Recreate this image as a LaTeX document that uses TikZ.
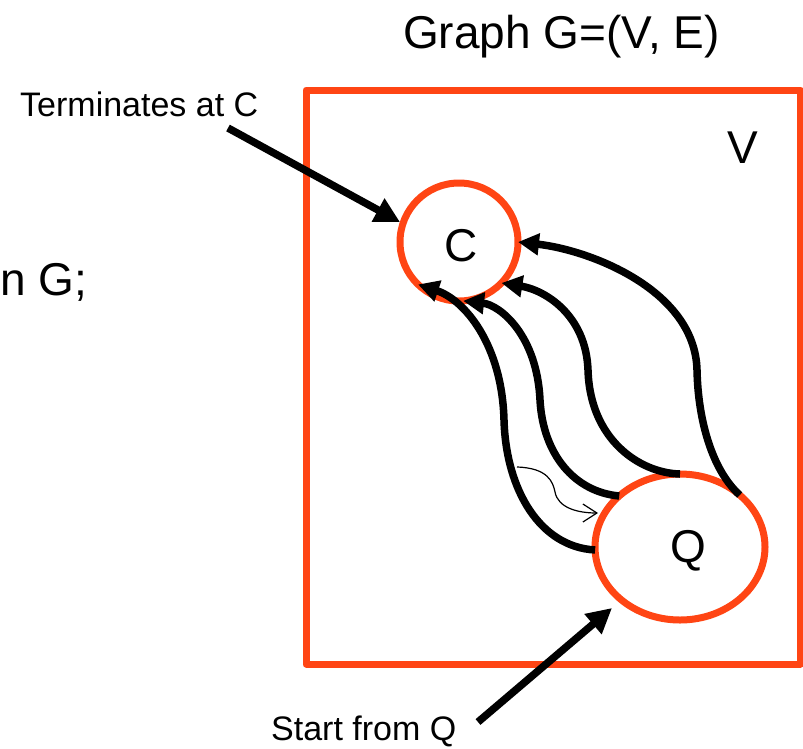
\documentclass[tikz,border=0pt]{standalone}
\usepackage{fontspec}
\setmainfont{Liberation Sans}
\usetikzlibrary{arrows.meta,shapes.geometric}
\definecolor{vred}{RGB}{255,69,20}
\begin{document}
\begin{tikzpicture}[x=1pt,y=-1pt,
  setbox/.style={draw=vred,line width=7pt,line join=round},
  vtx/.style={draw=vred,line width=7pt,inner sep=0pt,outer sep=0pt},
  walk/.style={draw=black,line width=7.5pt,-{Triangle[length=21pt,width=21pt]}},
  thinwalk/.style={draw=black,line width=1.2pt,-{Straight Barb[length=14pt,width=18pt]}},
  pointer/.style={draw=black,line width=7.5pt,-{Triangle[length=25pt,width=25pt]}},
  big/.style={font=\fontsize{46}{50}\selectfont},
  small/.style={font=\fontsize{34}{38}\selectfont},
  txt/.style={anchor=base west,inner sep=0pt}]
\useasboundingbox (0,0) rectangle (803,748);
% the set V
\draw[setbox] (306,90) rectangle (800,664);
% vertices
\node[vtx,circle,minimum size=118pt] (C) at (459,242) {};
\node[vtx,ellipse,minimum width=170pt,minimum height=146pt] (Q) at (680,547) {};
\node[big,inner sep=0pt] (Clab) at (461,246) {C};
\node[big,inner sep=0pt] (Qlab) at (688,551) {Q};
% texts
\node[big,txt] (title) at (403,48) {Graph G=(V, E)};
\node[big,txt] (Vlab) at (727,163) {V};
\node[big,txt] (nG) at (0,295) {n G;};
\node[small,txt] (tC) at (20,116) {Terminates at C};
\node[small,txt] (sQ) at (271,740) {Start from Q};
% walks from Q to C
\draw[walk] (Q.41) .. controls (712,470) and (698,420) .. (697,370)
  .. controls (695,290) and (590,250) .. (C.0);
\draw[walk] (Q.90) .. controls (640,473) and (590,440) .. (588,370)
  .. controls (586,315) and (545,290) .. (C.-44);
\draw[walk] (Q.140) .. controls (575,492) and (543,455) .. (540,400)
  .. controls (537,335) and (500,305) .. (C.-86);
\draw[walk] (Q.182) .. controls (540,547) and (506,490) .. (504,420)
  .. controls (502,345) and (465,300) .. (C.-134);
% thin arrow
\coordinate (t0) at (517,467);
\coordinate (t1) at (598,513);
\draw[thinwalk] (t0) .. controls (548,468) and (553,482) .. (555,492)
  .. controls (558,508) and (578,513) .. (t1);
% pointers
\coordinate (p1) at (228,128);
\coordinate (p1e) at (400,222);
\draw[pointer] (p1) -- (p1e);
\coordinate (p2) at (478,722);
\coordinate (p2e) at (612,608);
\draw[pointer] (p2) -- (p2e);
\end{tikzpicture}
\end{document}
